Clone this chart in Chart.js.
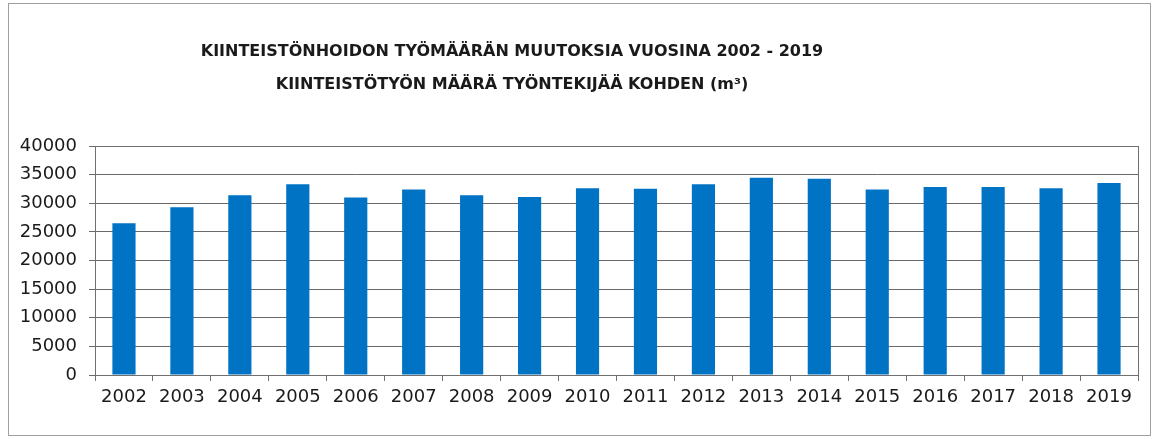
<!DOCTYPE html>
<html>
<head>
<meta charset="utf-8">
<script src="https://cdn.jsdelivr.net/npm/chart.js@4/dist/chart.umd.min.js"></script>
<style>
  html, body { margin: 0; padding: 0; background: #fff; }
  #wrap { position: relative; width: 1152px; height: 439px; }
  #frame { position: absolute; left: 8px; top: 3px; width: 1141px; height: 431px; border: 1px solid #a0a0a0; pointer-events: none; }
</style>
</head>
<body>
<div id="wrap">
  <canvas id="chart" width="1152" height="439"></canvas>
  <div id="frame"></div>
</div>
<script>
// Data
const years = ["2002", "2003", "2004", "2005", "2006", "2007", "2008", "2009", "2010",
               "2011", "2012", "2013", "2014", "2015", "2016", "2017", "2018", "2019"];
const volumePerWorker = [26500, 29300, 31400, 33300, 31000, 32400, 31400, 31100, 32600,
                         32550, 33300, 34450, 34300, 32400, 32850, 32850, 32600, 33550];
const titleLines = [
  "KIINTEISTÖNHOIDON TYÖMÄÄRÄN MUUTOKSIA VUOSINA 2002 - 2019",
  "KIINTEISTÖTYÖN MÄÄRÄ TYÖNTEKIJÄÄ KOHDEN (m³)"
];

// Title drawn by hand, the reference centres it off the canvas middle
const titlePlugin = {
  id: "titleText",
  afterDraw(chart) {
    const ctx = chart.ctx;
    ctx.save();
    ctx.font = "bold 16px 'DejaVu Sans'";
    ctx.fillStyle = "#1a1a1a";
    ctx.textAlign = "center";
    ctx.textBaseline = "middle";
    titleLines.forEach((line, i) => ctx.fillText(line, 512, 52 + i * 33));
    ctx.restore();
  }
};

// Border round the plot area
const plotBorder = {
  id: "plotBorder",
  afterDatasetsDraw(chart) {
    const { ctx, chartArea: a } = chart;
    ctx.save();
    ctx.strokeStyle = "#707070";
    ctx.lineWidth = 1;
    ctx.strokeRect(a.left + 0.5, a.top + 0.5, a.right - a.left, a.bottom - a.top);
    ctx.restore();
  }
};

const ctx = document.getElementById("chart").getContext("2d");
new Chart(ctx, {
  type: "bar",
  data: {
    labels: years,
    datasets: [{
      data: volumePerWorker,
      backgroundColor: "#0073c4",
      borderWidth: 0,
      barPercentage: 0.4,
      categoryPercentage: 1.0
    }]
  },
  options: {
    responsive: false,
    animation: false,
    layout: { padding: { left: 0, right: 14, top: 146, bottom: 24 } },
    plugins: {
      legend: { display: false },
      title: { display: false },
      tooltip: { enabled: false }
    },
    scales: {
      x: {
        afterFit: (s) => { s.height = 40; },
        grid: {
          offset: true,
          drawOnChartArea: false,
          drawTicks: true,
          tickLength: 6,
          color: "#707070"
        },
        border: { color: "#707070" },
        ticks: {
          color: "#1a1a1a",
          padding: 6,
          font: { family: "'DejaVu Sans'", size: 18 },
          maxRotation: 0,
          autoSkip: false
        }
      },
      y: {
        min: 0,
        max: 40000,
        afterFit: (s) => { s.width = 95; },
        grid: {
          color: "#6a6a6a",
          tickLength: 6
        },
        border: { color: "#707070" },
        ticks: {
          stepSize: 5000,
          color: "#1a1a1a",
          padding: 12,
          font: { family: "'DejaVu Sans'", size: 18 },
          callback: (v) => String(v)
        }
      }
    }
  },
  plugins: [titlePlugin, plotBorder]
});
</script>
</body>
</html>
